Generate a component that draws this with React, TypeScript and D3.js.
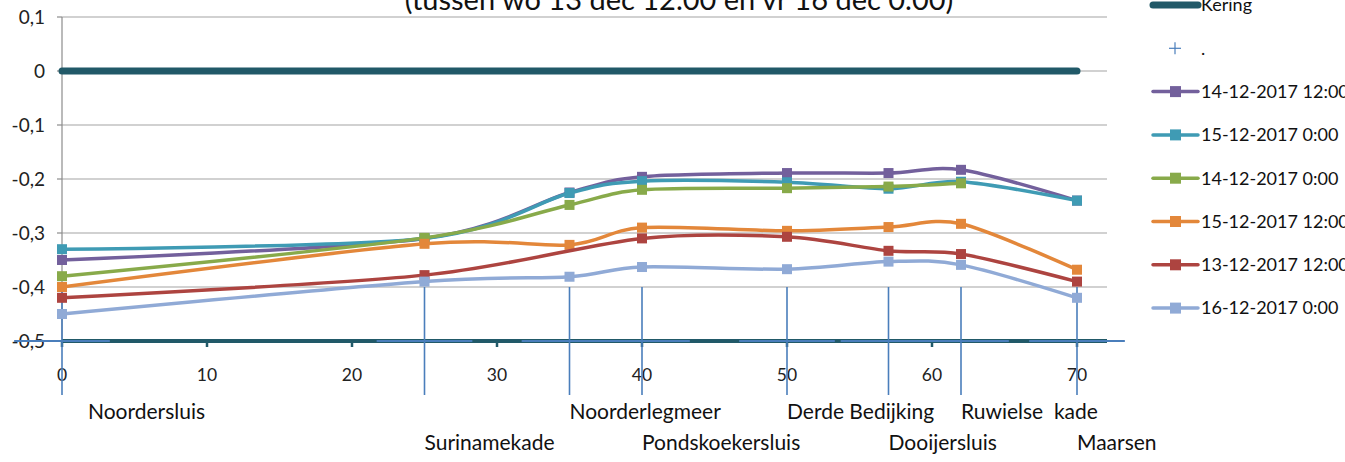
import React from "react";
import * as d3 from "d3";

const positions = [0, 25, 35, 40, 50, 57, 62, 70];
const yTicks = [0.1, 0, -0.1, -0.2, -0.3, -0.4, -0.5];
const xTicks = [0, 10, 20, 30, 40, 50, 60, 70];

const seriesNames = [
  "14-12-2017 12:00",
  "15-12-2017 0:00",
  "14-12-2017 0:00",
  "15-12-2017 12:00",
  "13-12-2017 12:00",
  "16-12-2017 0:00",
];
const seriesColors = ["#73609c", "#3f9bb4", "#88aa4a", "#e3873a", "#ad4440", "#90aad6"];

const s1412_12 = [-0.35, -0.31, -0.225, -0.196, -0.189, -0.189, -0.183, -0.24];
const s1512_00 = [-0.33, -0.31, -0.226, -0.204, -0.206, -0.218, -0.205, -0.24];
const s1412_00 = [-0.38, -0.309, -0.248, -0.22, -0.217, -0.214, -0.208, null];
const s1512_12 = [-0.4, -0.32, -0.322, -0.29, -0.296, -0.289, -0.283, -0.368];
const s1312_12 = [-0.42, -0.378, null, -0.31, -0.307, -0.333, -0.339, -0.39];
const s1612_00 = [-0.45, -0.39, -0.381, -0.363, -0.367, -0.353, -0.359, -0.42];
const seriesValues = [s1412_12, s1512_00, s1412_00, s1512_12, s1312_12, s1612_00];

const keringX = [0, 70];
const keringY = [0, 0];

const dotValue = -0.5;
const dotErrY = 0.1;
const dotErrX = 3.3;

const locationNames = [
  "Noordersluis",
  "Surinamekade",
  "Noorderlegmeer",
  "Pondskoekersluis",
  "Derde Bedijking",
  "Dooijersluis",
  "Ruwielse  kade",
  "Maarsen",
];
const locationRow = [0, 1, 0, 1, 0, 1, 0, 1];

const titleText = "(tussen wo 13 dec 12.00 en vr 16 dec 0.00)";

const W = 1345;
const H = 462;
const FONT = "Lato, 'Noto Sans', sans-serif";

export default function App() {
  const x = d3.scaleLinear().domain([0, 70]).range([62, 1077]);
  const y = d3.scaleLinear().domain([-0.5, 0.1]).range([341, 17]);
  const plotRight = 1107;

  const line = d3
    .line<[number, number]>()
    .x((d) => x(d[0]))
    .y((d) => y(d[1]))
    .curve(d3.curveCardinal.tension(0.1));

  const fmt = (v: number) => (Math.abs(v) < 1e-9 ? "0" : d3.format(".1f")(v).replace(".", ",").replace("−", "-"));

  const legendX = 1153;
  const legendY0 = 5;
  const legendStep = 43.3;

  return (
    <svg
      width={W}
      height={H}
      style={{ position: "absolute", left: 0, top: 0, background: "#fff" }}
      fontFamily={FONT}
    >
      {/* gridlines */}
      {yTicks.slice(0, 6).map((t) => (
        <line key={"g" + t} x1={x(0)} x2={plotRight} y1={y(t)} y2={y(t)} stroke="#a3a3a3" strokeWidth={1.2} />
      ))}
      {/* y axis */}
      <line x1={x(0)} x2={x(0)} y1={y(0.1)} y2={y(-0.5)} stroke="#8c8c8c" strokeWidth={1.2} />
      {yTicks.map((t) => (
        <g key={"yt" + t}>
          <line x1={x(0) - 5} x2={x(0)} y1={y(t)} y2={y(t)} stroke="#8c8c8c" strokeWidth={1.2} />
          <text x={45} y={y(t)} dy="0.35em" textAnchor="end" fontSize={19} fill="#222">
            {fmt(t)}
          </text>
        </g>
      ))}
      {/* title */}
      <text x={679} y={10} textAnchor="middle" fontSize={29} fill="#111">
        {titleText}
      </text>

      {/* x axis (dark teal) */}
      <line x1={x(0)} x2={plotRight} y1={y(-0.5)} y2={y(-0.5)} stroke="#215968" strokeWidth={4} />
      {xTicks.map((t) => (
        <g key={"xt" + t}>
          <line x1={x(t)} x2={x(t)} y1={y(-0.5)} y2={y(-0.5) + 6} stroke="#215968" strokeWidth={2.5} />
          <text x={x(t)} y={375} dy="0.35em" textAnchor="middle" fontSize={17.5} fill="#222">
            {t}
          </text>
        </g>
      ))}

      {/* error bars of "." series */}
      {positions.map((p) => (
        <g key={"eb" + p} stroke="#4a7ebb" strokeWidth={1.6}>
          <line x1={x(p)} x2={x(p)} y1={y(dotValue + dotErrY)} y2={y(dotValue - dotErrY)} />
          <line x1={x(p - dotErrX)} x2={x(p + dotErrX)} y1={y(dotValue)} y2={y(dotValue)} strokeWidth={2} />
        </g>
      ))}

      {/* Kering */}
      <path
        d={line(keringX.map((v, i) => [v, keringY[i]]) as any) || ""}
        fill="none"
        stroke="#215968"
        strokeWidth={7}
        strokeLinecap="round"
      />

      {/* series */}
      {seriesValues.map((vals, si) => {
        const pts = positions
          .map((p, i) => [p, vals[i]] as [number, number | null])
          .filter((d) => d[1] !== null) as [number, number][];
        return (
          <g key={"s" + si}>
            <path d={line(pts) || ""} fill="none" stroke={seriesColors[si]} strokeWidth={3.5} strokeLinejoin="round" />
            {pts.map((d, i) => (
              <rect
                key={i}
                x={x(d[0]) - 5}
                y={y(d[1]) - 5}
                width={10}
                height={10}
                fill={seriesColors[si]}
              />
            ))}
          </g>
        );
      })}

      {/* location labels */}
      {locationNames.map((n, i) => (
        <text
          key={n}
          x={x(positions[i]) + (i === 0 ? 26 : 0)}
          y={locationRow[i] === 0 ? 412 : 443}
          dy="0.35em"
          fontSize={21}
          fill="#111"
          style={{ whiteSpace: "pre" }}
        >
          {n}
        </text>
      ))}

      {/* legend */}
      <g>
        <line x1={legendX} x2={legendX + 45} y1={legendY0} y2={legendY0} stroke="#215968" strokeWidth={7} strokeLinecap="round" />
        <text x={legendX + 48} y={legendY0} dy="0.35em" fontSize={18} fill="#111">
          Kering
        </text>
        <g stroke="#4a7ebb" strokeWidth={1.2}>
          <line x1={legendX + 16} x2={legendX + 28} y1={legendY0 + legendStep} y2={legendY0 + legendStep} />
          <line x1={legendX + 22} x2={legendX + 22} y1={legendY0 + legendStep - 6} y2={legendY0 + legendStep + 6} />
        </g>
        <text x={legendX + 48} y={legendY0 + legendStep} dy="0.35em" fontSize={18} fill="#111">
          .
        </text>
        {seriesNames.map((n, i) => {
          const ly = legendY0 + legendStep * (i + 2);
          return (
            <g key={n}>
              <line x1={legendX} x2={legendX + 45} y1={ly} y2={ly} stroke={seriesColors[i]} strokeWidth={3.5} strokeLinecap="round" />
              <rect x={legendX + 17} y={ly - 5.5} width={11} height={11} fill={seriesColors[i]} />
              <text x={legendX + 48} y={ly} dy="0.35em" fontSize={18} fill="#111">
                {n}
              </text>
            </g>
          );
        })}
      </g>
    </svg>
  );
}
